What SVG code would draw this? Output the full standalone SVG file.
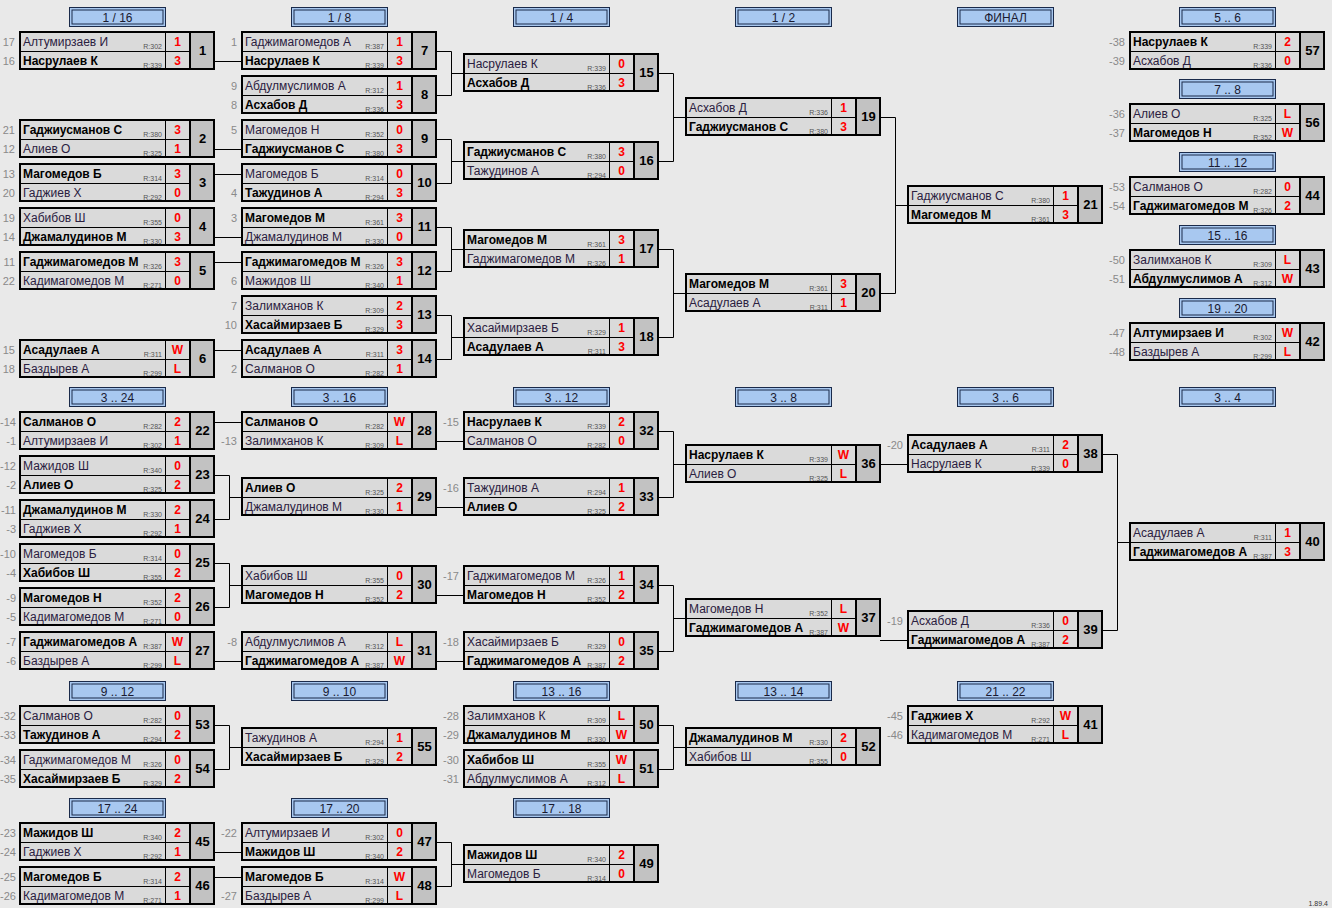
<svg xmlns="http://www.w3.org/2000/svg" xmlns:xlink="http://www.w3.org/1999/xlink" width="1332" height="908" viewBox="0 0 1332 908">
<style>
.n{font-family:"Liberation Sans",Arial,sans-serif;font-size:12px;fill:#2a2040}
.b{font-weight:bold;fill:#000}
.r{font-family:"Liberation Sans",Arial,sans-serif;font-size:7px;fill:#555;text-anchor:end}
.s{font-family:"Liberation Sans",Arial,sans-serif;font-size:12px;font-weight:bold;fill:#f00;text-anchor:middle}
.no{font-family:"Liberation Sans",Arial,sans-serif;font-size:13px;font-weight:bold;fill:#000;text-anchor:middle}
.sd{font-family:"Liberation Sans",Arial,sans-serif;font-size:11px;fill:#8a8a8a;text-anchor:end}
.h{font-family:"Liberation Sans",Arial,sans-serif;font-size:12px;fill:#1a1a30;text-anchor:middle}
.cn{fill:none;stroke:#000;stroke-width:1}
</style>
<defs>
<g id="bx">
<rect x="0" y="0" width="170" height="37" fill="#dadada"/>
<rect x="170" y="0" width="24" height="37" fill="#c2c2c2"/>
<path d="M0 19.5H170M145.5 0V37" stroke="#000" stroke-width="1"/>
<path d="M170 0V37" stroke="#000" stroke-width="2"/>
<rect x="0" y="0" width="194" height="37" fill="none" stroke="#000" stroke-width="2"/>
</g>
<g id="hb">
<rect x="0.5" y="0.5" width="96" height="19" fill="#a8c8f0" stroke="#1a2a4a"/>
<rect x="3" y="3" width="91" height="14" fill="none" stroke="#1a2a4a"/>
</g>
</defs>
<rect x="0" y="0" width="1332" height="908" fill="#e9e9e9"/>

<g id="headers">
<g transform="translate(69,7)"><use href="#hb"/><text class="h" x="48.5" y="14.5">1 / 16</text></g>
<g transform="translate(291,7)"><use href="#hb"/><text class="h" x="48.5" y="14.5">1 / 8</text></g>
<g transform="translate(513,7)"><use href="#hb"/><text class="h" x="48.5" y="14.5">1 / 4</text></g>
<g transform="translate(735,7)"><use href="#hb"/><text class="h" x="48.5" y="14.5">1 / 2</text></g>
<g transform="translate(957,7)"><use href="#hb"/><text class="h" x="48.5" y="14.5">ФИНАЛ</text></g>
<g transform="translate(1179,7)"><use href="#hb"/><text class="h" x="48.5" y="14.5">5 .. 6</text></g>
<g transform="translate(1179,79)"><use href="#hb"/><text class="h" x="48.5" y="14.5">7 .. 8</text></g>
<g transform="translate(1179,152)"><use href="#hb"/><text class="h" x="48.5" y="14.5">11 .. 12</text></g>
<g transform="translate(1179,225)"><use href="#hb"/><text class="h" x="48.5" y="14.5">15 .. 16</text></g>
<g transform="translate(1179,298)"><use href="#hb"/><text class="h" x="48.5" y="14.5">19 .. 20</text></g>
<g transform="translate(69,387)"><use href="#hb"/><text class="h" x="48.5" y="14.5">3 .. 24</text></g>
<g transform="translate(291,387)"><use href="#hb"/><text class="h" x="48.5" y="14.5">3 .. 16</text></g>
<g transform="translate(513,387)"><use href="#hb"/><text class="h" x="48.5" y="14.5">3 .. 12</text></g>
<g transform="translate(735,387)"><use href="#hb"/><text class="h" x="48.5" y="14.5">3 .. 8</text></g>
<g transform="translate(957,387)"><use href="#hb"/><text class="h" x="48.5" y="14.5">3 .. 6</text></g>
<g transform="translate(1179,387)"><use href="#hb"/><text class="h" x="48.5" y="14.5">3 .. 4</text></g>
<g transform="translate(69,681)"><use href="#hb"/><text class="h" x="48.5" y="14.5">9 .. 12</text></g>
<g transform="translate(291,681)"><use href="#hb"/><text class="h" x="48.5" y="14.5">9 .. 10</text></g>
<g transform="translate(513,681)"><use href="#hb"/><text class="h" x="48.5" y="14.5">13 .. 16</text></g>
<g transform="translate(735,681)"><use href="#hb"/><text class="h" x="48.5" y="14.5">13 .. 14</text></g>
<g transform="translate(957,681)"><use href="#hb"/><text class="h" x="48.5" y="14.5">21 .. 22</text></g>
<g transform="translate(69,798)"><use href="#hb"/><text class="h" x="48.5" y="14.5">17 .. 24</text></g>
<g transform="translate(291,798)"><use href="#hb"/><text class="h" x="48.5" y="14.5">17 .. 20</text></g>
<g transform="translate(513,798)"><use href="#hb"/><text class="h" x="48.5" y="14.5">17 .. 18</text></g>
</g>

<g id="connectors" class="cn">
<path d="M214 61.5H242M214 149.5H242M214 174.5H242M214 237.5H242M214 262.5H242M214 350.5H242"/>
<path d="M436 51.5H451.5V95.5H436M451.5 73.5H464M436 139.5H451.5V183.5H436M451.5 161.5H464M436 227.5H451.5V271.5H436M451.5 249.5H464M436 315.5H451.5V359.5H436M451.5 337.5H464"/>
<path d="M658 73.5H673.5V161.5H658M673.5 117.5H686M658 249.5H673.5V337.5H658M673.5 293.5H686"/>
<path d="M880 117.5H895.5V293.5H880M895.5 205.5H908"/>
<path d="M214 422.5H242M214 475.5H229.5V519.5H214M229.5 497.5H242M214 563.5H229.5V607.5H214M229.5 585.5H242M214 661.5H242"/>
<path d="M436 441.5H464M436 507.5H464M436 595.5H464M436 661.5H464"/>
<path d="M658 431.5H673.5V497.5H658M673.5 464.5H686M658 585.5H673.5V651.5H658M673.5 618.5H686"/>
<path d="M880 464.5H908M880 640.5H908"/>
<path d="M1102 454.5H1117.5V630.5H1102M1117.5 542.5H1130"/>
<path d="M214 725.5H229.5V769.5H214M229.5 747.5H242M658 725.5H673.5V769.5H658M673.5 747.5H686"/>
<path d="M214 852.5H242M214 877.5H242M436 842.5H451.5V886.5H436M451.5 864.5H464"/>
</g>

<g id="m1" transform="translate(20,32)"><use href="#bx"/><text class="n" x="3" y="14">Алтумирзаев И</text><text class="r" x="142" y="17">R:302</text><text class="s" x="157.5" y="14">1</text><text class="n b" x="3" y="33">Насрулаев К</text><text class="r" x="142" y="36">R:339</text><text class="s" x="157.5" y="33">3</text><text class="no" x="182.5" y="23">1</text><text class="sd" x="-5" y="14">17</text><text class="sd" x="-5" y="33">16</text></g>
<g id="m2" transform="translate(20,120)"><use href="#bx"/><text class="n b" x="3" y="14">Гаджиусманов С</text><text class="r" x="142" y="17">R:380</text><text class="s" x="157.5" y="14">3</text><text class="n" x="3" y="33">Алиев О</text><text class="r" x="142" y="36">R:325</text><text class="s" x="157.5" y="33">1</text><text class="no" x="182.5" y="23">2</text><text class="sd" x="-5" y="14">21</text><text class="sd" x="-5" y="33">12</text></g>
<g id="m3" transform="translate(20,164)"><use href="#bx"/><text class="n b" x="3" y="14">Магомедов Б</text><text class="r" x="142" y="17">R:314</text><text class="s" x="157.5" y="14">3</text><text class="n" x="3" y="33">Гаджиев Х</text><text class="r" x="142" y="36">R:292</text><text class="s" x="157.5" y="33">0</text><text class="no" x="182.5" y="23">3</text><text class="sd" x="-5" y="14">13</text><text class="sd" x="-5" y="33">20</text></g>
<g id="m4" transform="translate(20,208)"><use href="#bx"/><text class="n" x="3" y="14">Хабибов Ш</text><text class="r" x="142" y="17">R:355</text><text class="s" x="157.5" y="14">0</text><text class="n b" x="3" y="33">Джамалудинов М</text><text class="r" x="142" y="36">R:330</text><text class="s" x="157.5" y="33">3</text><text class="no" x="182.5" y="23">4</text><text class="sd" x="-5" y="14">19</text><text class="sd" x="-5" y="33">14</text></g>
<g id="m5" transform="translate(20,252)"><use href="#bx"/><text class="n b" x="3" y="14">Гаджимагомедов М</text><text class="r" x="142" y="17">R:326</text><text class="s" x="157.5" y="14">3</text><text class="n" x="3" y="33">Кадимагомедов М</text><text class="r" x="142" y="36">R:271</text><text class="s" x="157.5" y="33">0</text><text class="no" x="182.5" y="23">5</text><text class="sd" x="-5" y="14">11</text><text class="sd" x="-5" y="33">22</text></g>
<g id="m6" transform="translate(20,340)"><use href="#bx"/><text class="n b" x="3" y="14">Асадулаев А</text><text class="r" x="142" y="17">R:311</text><text class="s" x="157.5" y="14">W</text><text class="n" x="3" y="33">Баздырев А</text><text class="r" x="142" y="36">R:299</text><text class="s" x="157.5" y="33">L</text><text class="no" x="182.5" y="23">6</text><text class="sd" x="-5" y="14">15</text><text class="sd" x="-5" y="33">18</text></g>

<g id="m7" transform="translate(242,32)"><use href="#bx"/><text class="n" x="3" y="14">Гаджимагомедов А</text><text class="r" x="142" y="17">R:387</text><text class="s" x="157.5" y="14">1</text><text class="n b" x="3" y="33">Насрулаев К</text><text class="r" x="142" y="36">R:339</text><text class="s" x="157.5" y="33">3</text><text class="no" x="182.5" y="23">7</text><text class="sd" x="-5" y="14">1</text></g>
<g id="m8" transform="translate(242,76)"><use href="#bx"/><text class="n" x="3" y="14">Абдулмуслимов А</text><text class="r" x="142" y="17">R:312</text><text class="s" x="157.5" y="14">1</text><text class="n b" x="3" y="33">Асхабов Д</text><text class="r" x="142" y="36">R:336</text><text class="s" x="157.5" y="33">3</text><text class="no" x="182.5" y="23">8</text><text class="sd" x="-5" y="14">9</text><text class="sd" x="-5" y="33">8</text></g>
<g id="m9" transform="translate(242,120)"><use href="#bx"/><text class="n" x="3" y="14">Магомедов Н</text><text class="r" x="142" y="17">R:352</text><text class="s" x="157.5" y="14">0</text><text class="n b" x="3" y="33">Гаджиусманов С</text><text class="r" x="142" y="36">R:380</text><text class="s" x="157.5" y="33">3</text><text class="no" x="182.5" y="23">9</text><text class="sd" x="-5" y="14">5</text></g>
<g id="m10" transform="translate(242,164)"><use href="#bx"/><text class="n" x="3" y="14">Магомедов Б</text><text class="r" x="142" y="17">R:314</text><text class="s" x="157.5" y="14">0</text><text class="n b" x="3" y="33">Тажудинов А</text><text class="r" x="142" y="36">R:294</text><text class="s" x="157.5" y="33">3</text><text class="no" x="182.5" y="23">10</text><text class="sd" x="-5" y="33">4</text></g>
<g id="m11" transform="translate(242,208)"><use href="#bx"/><text class="n b" x="3" y="14">Магомедов М</text><text class="r" x="142" y="17">R:361</text><text class="s" x="157.5" y="14">3</text><text class="n" x="3" y="33">Джамалудинов М</text><text class="r" x="142" y="36">R:330</text><text class="s" x="157.5" y="33">0</text><text class="no" x="182.5" y="23">11</text><text class="sd" x="-5" y="14">3</text></g>
<g id="m12" transform="translate(242,252)"><use href="#bx"/><text class="n b" x="3" y="14">Гаджимагомедов М</text><text class="r" x="142" y="17">R:326</text><text class="s" x="157.5" y="14">3</text><text class="n" x="3" y="33">Мажидов Ш</text><text class="r" x="142" y="36">R:340</text><text class="s" x="157.5" y="33">1</text><text class="no" x="182.5" y="23">12</text><text class="sd" x="-5" y="33">6</text></g>
<g id="m13" transform="translate(242,296)"><use href="#bx"/><text class="n" x="3" y="14">Залимханов К</text><text class="r" x="142" y="17">R:309</text><text class="s" x="157.5" y="14">2</text><text class="n b" x="3" y="33">Хасаймирзаев Б</text><text class="r" x="142" y="36">R:329</text><text class="s" x="157.5" y="33">3</text><text class="no" x="182.5" y="23">13</text><text class="sd" x="-5" y="14">7</text><text class="sd" x="-5" y="33">10</text></g>
<g id="m14" transform="translate(242,340)"><use href="#bx"/><text class="n b" x="3" y="14">Асадулаев А</text><text class="r" x="142" y="17">R:311</text><text class="s" x="157.5" y="14">3</text><text class="n" x="3" y="33">Салманов О</text><text class="r" x="142" y="36">R:282</text><text class="s" x="157.5" y="33">1</text><text class="no" x="182.5" y="23">14</text><text class="sd" x="-5" y="33">2</text></g>

<g id="m15" transform="translate(464,54)"><use href="#bx"/><text class="n" x="3" y="14">Насрулаев К</text><text class="r" x="142" y="17">R:339</text><text class="s" x="157.5" y="14">0</text><text class="n b" x="3" y="33">Асхабов Д</text><text class="r" x="142" y="36">R:336</text><text class="s" x="157.5" y="33">3</text><text class="no" x="182.5" y="23">15</text></g>
<g id="m16" transform="translate(464,142)"><use href="#bx"/><text class="n b" x="3" y="14">Гаджиусманов С</text><text class="r" x="142" y="17">R:380</text><text class="s" x="157.5" y="14">3</text><text class="n" x="3" y="33">Тажудинов А</text><text class="r" x="142" y="36">R:294</text><text class="s" x="157.5" y="33">0</text><text class="no" x="182.5" y="23">16</text></g>
<g id="m17" transform="translate(464,230)"><use href="#bx"/><text class="n b" x="3" y="14">Магомедов М</text><text class="r" x="142" y="17">R:361</text><text class="s" x="157.5" y="14">3</text><text class="n" x="3" y="33">Гаджимагомедов М</text><text class="r" x="142" y="36">R:326</text><text class="s" x="157.5" y="33">1</text><text class="no" x="182.5" y="23">17</text></g>
<g id="m18" transform="translate(464,318)"><use href="#bx"/><text class="n" x="3" y="14">Хасаймирзаев Б</text><text class="r" x="142" y="17">R:329</text><text class="s" x="157.5" y="14">1</text><text class="n b" x="3" y="33">Асадулаев А</text><text class="r" x="142" y="36">R:311</text><text class="s" x="157.5" y="33">3</text><text class="no" x="182.5" y="23">18</text></g>

<g id="m19" transform="translate(686,98)"><use href="#bx"/><text class="n" x="3" y="14">Асхабов Д</text><text class="r" x="142" y="17">R:336</text><text class="s" x="157.5" y="14">1</text><text class="n b" x="3" y="33">Гаджиусманов С</text><text class="r" x="142" y="36">R:380</text><text class="s" x="157.5" y="33">3</text><text class="no" x="182.5" y="23">19</text></g>
<g id="m20" transform="translate(686,274)"><use href="#bx"/><text class="n b" x="3" y="14">Магомедов М</text><text class="r" x="142" y="17">R:361</text><text class="s" x="157.5" y="14">3</text><text class="n" x="3" y="33">Асадулаев А</text><text class="r" x="142" y="36">R:311</text><text class="s" x="157.5" y="33">1</text><text class="no" x="182.5" y="23">20</text></g>

<g id="m21" transform="translate(908,186)"><use href="#bx"/><text class="n" x="3" y="14">Гаджиусманов С</text><text class="r" x="142" y="17">R:380</text><text class="s" x="157.5" y="14">1</text><text class="n b" x="3" y="33">Магомедов М</text><text class="r" x="142" y="36">R:361</text><text class="s" x="157.5" y="33">3</text><text class="no" x="182.5" y="23">21</text></g>

<g id="m57" transform="translate(1130,32)"><use href="#bx"/><text class="n b" x="3" y="14">Насрулаев К</text><text class="r" x="142" y="17">R:339</text><text class="s" x="157.5" y="14">2</text><text class="n" x="3" y="33">Асхабов Д</text><text class="r" x="142" y="36">R:336</text><text class="s" x="157.5" y="33">0</text><text class="no" x="182.5" y="23">57</text><text class="sd" x="-5" y="14">-38</text><text class="sd" x="-5" y="33">-39</text></g>
<g id="m56" transform="translate(1130,104)"><use href="#bx"/><text class="n" x="3" y="14">Алиев О</text><text class="r" x="142" y="17">R:325</text><text class="s" x="157.5" y="14">L</text><text class="n b" x="3" y="33">Магомедов Н</text><text class="r" x="142" y="36">R:352</text><text class="s" x="157.5" y="33">W</text><text class="no" x="182.5" y="23">56</text><text class="sd" x="-5" y="14">-36</text><text class="sd" x="-5" y="33">-37</text></g>
<g id="m44" transform="translate(1130,177)"><use href="#bx"/><text class="n" x="3" y="14">Салманов О</text><text class="r" x="142" y="17">R:282</text><text class="s" x="157.5" y="14">0</text><text class="n b" x="3" y="33">Гаджимагомедов М</text><text class="r" x="142" y="36">R:326</text><text class="s" x="157.5" y="33">2</text><text class="no" x="182.5" y="23">44</text><text class="sd" x="-5" y="14">-53</text><text class="sd" x="-5" y="33">-54</text></g>
<g id="m43" transform="translate(1130,250)"><use href="#bx"/><text class="n" x="3" y="14">Залимханов К</text><text class="r" x="142" y="17">R:309</text><text class="s" x="157.5" y="14">L</text><text class="n b" x="3" y="33">Абдулмуслимов А</text><text class="r" x="142" y="36">R:312</text><text class="s" x="157.5" y="33">W</text><text class="no" x="182.5" y="23">43</text><text class="sd" x="-5" y="14">-50</text><text class="sd" x="-5" y="33">-51</text></g>
<g id="m42" transform="translate(1130,323)"><use href="#bx"/><text class="n b" x="3" y="14">Алтумирзаев И</text><text class="r" x="142" y="17">R:302</text><text class="s" x="157.5" y="14">W</text><text class="n" x="3" y="33">Баздырев А</text><text class="r" x="142" y="36">R:299</text><text class="s" x="157.5" y="33">L</text><text class="no" x="182.5" y="23">42</text><text class="sd" x="-5" y="14">-47</text><text class="sd" x="-5" y="33">-48</text></g>

<g id="m22" transform="translate(20,412)"><use href="#bx"/><text class="n b" x="3" y="14">Салманов О</text><text class="r" x="142" y="17">R:282</text><text class="s" x="157.5" y="14">2</text><text class="n" x="3" y="33">Алтумирзаев И</text><text class="r" x="142" y="36">R:302</text><text class="s" x="157.5" y="33">1</text><text class="no" x="182.5" y="23">22</text><text class="sd" x="-4" y="14">-14</text><text class="sd" x="-4" y="33">-1</text></g>
<g id="m23" transform="translate(20,456)"><use href="#bx"/><text class="n" x="3" y="14">Мажидов Ш</text><text class="r" x="142" y="17">R:340</text><text class="s" x="157.5" y="14">0</text><text class="n b" x="3" y="33">Алиев О</text><text class="r" x="142" y="36">R:325</text><text class="s" x="157.5" y="33">2</text><text class="no" x="182.5" y="23">23</text><text class="sd" x="-4" y="14">-12</text><text class="sd" x="-4" y="33">-2</text></g>
<g id="m24" transform="translate(20,500)"><use href="#bx"/><text class="n b" x="3" y="14">Джамалудинов М</text><text class="r" x="142" y="17">R:330</text><text class="s" x="157.5" y="14">2</text><text class="n" x="3" y="33">Гаджиев Х</text><text class="r" x="142" y="36">R:292</text><text class="s" x="157.5" y="33">1</text><text class="no" x="182.5" y="23">24</text><text class="sd" x="-4" y="14">-11</text><text class="sd" x="-4" y="33">-3</text></g>
<g id="m25" transform="translate(20,544)"><use href="#bx"/><text class="n" x="3" y="14">Магомедов Б</text><text class="r" x="142" y="17">R:314</text><text class="s" x="157.5" y="14">0</text><text class="n b" x="3" y="33">Хабибов Ш</text><text class="r" x="142" y="36">R:355</text><text class="s" x="157.5" y="33">2</text><text class="no" x="182.5" y="23">25</text><text class="sd" x="-4" y="14">-10</text><text class="sd" x="-4" y="33">-4</text></g>
<g id="m26" transform="translate(20,588)"><use href="#bx"/><text class="n b" x="3" y="14">Магомедов Н</text><text class="r" x="142" y="17">R:352</text><text class="s" x="157.5" y="14">2</text><text class="n" x="3" y="33">Кадимагомедов М</text><text class="r" x="142" y="36">R:271</text><text class="s" x="157.5" y="33">0</text><text class="no" x="182.5" y="23">26</text><text class="sd" x="-4" y="14">-9</text><text class="sd" x="-4" y="33">-5</text></g>
<g id="m27" transform="translate(20,632)"><use href="#bx"/><text class="n b" x="3" y="14">Гаджимагомедов А</text><text class="r" x="142" y="17">R:387</text><text class="s" x="157.5" y="14">W</text><text class="n" x="3" y="33">Баздырев А</text><text class="r" x="142" y="36">R:299</text><text class="s" x="157.5" y="33">L</text><text class="no" x="182.5" y="23">27</text><text class="sd" x="-4" y="14">-7</text><text class="sd" x="-4" y="33">-6</text></g>

<g id="m28" transform="translate(242,412)"><use href="#bx"/><text class="n b" x="3" y="14">Салманов О</text><text class="r" x="142" y="17">R:282</text><text class="s" x="157.5" y="14">W</text><text class="n" x="3" y="33">Залимханов К</text><text class="r" x="142" y="36">R:309</text><text class="s" x="157.5" y="33">L</text><text class="no" x="182.5" y="23">28</text><text class="sd" x="-5" y="33">-13</text></g>
<g id="m29" transform="translate(242,478)"><use href="#bx"/><text class="n b" x="3" y="14">Алиев О</text><text class="r" x="142" y="17">R:325</text><text class="s" x="157.5" y="14">2</text><text class="n" x="3" y="33">Джамалудинов М</text><text class="r" x="142" y="36">R:330</text><text class="s" x="157.5" y="33">1</text><text class="no" x="182.5" y="23">29</text></g>
<g id="m30" transform="translate(242,566)"><use href="#bx"/><text class="n" x="3" y="14">Хабибов Ш</text><text class="r" x="142" y="17">R:355</text><text class="s" x="157.5" y="14">0</text><text class="n b" x="3" y="33">Магомедов Н</text><text class="r" x="142" y="36">R:352</text><text class="s" x="157.5" y="33">2</text><text class="no" x="182.5" y="23">30</text></g>
<g id="m31" transform="translate(242,632)"><use href="#bx"/><text class="n" x="3" y="14">Абдулмуслимов А</text><text class="r" x="142" y="17">R:312</text><text class="s" x="157.5" y="14">L</text><text class="n b" x="3" y="33">Гаджимагомедов А</text><text class="r" x="142" y="36">R:387</text><text class="s" x="157.5" y="33">W</text><text class="no" x="182.5" y="23">31</text><text class="sd" x="-5" y="14">-8</text></g>

<g id="m32" transform="translate(464,412)"><use href="#bx"/><text class="n b" x="3" y="14">Насрулаев К</text><text class="r" x="142" y="17">R:339</text><text class="s" x="157.5" y="14">2</text><text class="n" x="3" y="33">Салманов О</text><text class="r" x="142" y="36">R:282</text><text class="s" x="157.5" y="33">0</text><text class="no" x="182.5" y="23">32</text><text class="sd" x="-5" y="14">-15</text></g>
<g id="m33" transform="translate(464,478)"><use href="#bx"/><text class="n" x="3" y="14">Тажудинов А</text><text class="r" x="142" y="17">R:294</text><text class="s" x="157.5" y="14">1</text><text class="n b" x="3" y="33">Алиев О</text><text class="r" x="142" y="36">R:325</text><text class="s" x="157.5" y="33">2</text><text class="no" x="182.5" y="23">33</text><text class="sd" x="-5" y="14">-16</text></g>
<g id="m34" transform="translate(464,566)"><use href="#bx"/><text class="n" x="3" y="14">Гаджимагомедов М</text><text class="r" x="142" y="17">R:326</text><text class="s" x="157.5" y="14">1</text><text class="n b" x="3" y="33">Магомедов Н</text><text class="r" x="142" y="36">R:352</text><text class="s" x="157.5" y="33">2</text><text class="no" x="182.5" y="23">34</text><text class="sd" x="-5" y="14">-17</text></g>
<g id="m35" transform="translate(464,632)"><use href="#bx"/><text class="n" x="3" y="14">Хасаймирзаев Б</text><text class="r" x="142" y="17">R:329</text><text class="s" x="157.5" y="14">0</text><text class="n b" x="3" y="33">Гаджимагомедов А</text><text class="r" x="142" y="36">R:387</text><text class="s" x="157.5" y="33">2</text><text class="no" x="182.5" y="23">35</text><text class="sd" x="-5" y="14">-18</text></g>

<g id="m36" transform="translate(686,445)"><use href="#bx"/><text class="n b" x="3" y="14">Насрулаев К</text><text class="r" x="142" y="17">R:339</text><text class="s" x="157.5" y="14">W</text><text class="n" x="3" y="33">Алиев О</text><text class="r" x="142" y="36">R:325</text><text class="s" x="157.5" y="33">L</text><text class="no" x="182.5" y="23">36</text></g>
<g id="m37" transform="translate(686,599)"><use href="#bx"/><text class="n" x="3" y="14">Магомедов Н</text><text class="r" x="142" y="17">R:352</text><text class="s" x="157.5" y="14">L</text><text class="n b" x="3" y="33">Гаджимагомедов А</text><text class="r" x="142" y="36">R:387</text><text class="s" x="157.5" y="33">W</text><text class="no" x="182.5" y="23">37</text></g>

<g id="m38" transform="translate(908,435)"><use href="#bx"/><text class="n b" x="3" y="14">Асадулаев А</text><text class="r" x="142" y="17">R:311</text><text class="s" x="157.5" y="14">2</text><text class="n" x="3" y="33">Насрулаев К</text><text class="r" x="142" y="36">R:339</text><text class="s" x="157.5" y="33">0</text><text class="no" x="182.5" y="23">38</text><text class="sd" x="-5" y="14">-20</text></g>
<g id="m39" transform="translate(908,611)"><use href="#bx"/><text class="n" x="3" y="14">Асхабов Д</text><text class="r" x="142" y="17">R:336</text><text class="s" x="157.5" y="14">0</text><text class="n b" x="3" y="33">Гаджимагомедов А</text><text class="r" x="142" y="36">R:387</text><text class="s" x="157.5" y="33">2</text><text class="no" x="182.5" y="23">39</text><text class="sd" x="-5" y="14">-19</text></g>

<g id="m40" transform="translate(1130,523)"><use href="#bx"/><text class="n" x="3" y="14">Асадулаев А</text><text class="r" x="142" y="17">R:311</text><text class="s" x="157.5" y="14">1</text><text class="n b" x="3" y="33">Гаджимагомедов А</text><text class="r" x="142" y="36">R:387</text><text class="s" x="157.5" y="33">3</text><text class="no" x="182.5" y="23">40</text></g>

<g id="m53" transform="translate(20,706)"><use href="#bx"/><text class="n" x="3" y="14">Салманов О</text><text class="r" x="142" y="17">R:282</text><text class="s" x="157.5" y="14">0</text><text class="n b" x="3" y="33">Тажудинов А</text><text class="r" x="142" y="36">R:294</text><text class="s" x="157.5" y="33">2</text><text class="no" x="182.5" y="23">53</text><text class="sd" x="-4" y="14">-32</text><text class="sd" x="-4" y="33">-33</text></g>
<g id="m54" transform="translate(20,750)"><use href="#bx"/><text class="n" x="3" y="14">Гаджимагомедов М</text><text class="r" x="142" y="17">R:326</text><text class="s" x="157.5" y="14">0</text><text class="n b" x="3" y="33">Хасаймирзаев Б</text><text class="r" x="142" y="36">R:329</text><text class="s" x="157.5" y="33">2</text><text class="no" x="182.5" y="23">54</text><text class="sd" x="-4" y="14">-34</text><text class="sd" x="-4" y="33">-35</text></g>
<g id="m55" transform="translate(242,728)"><use href="#bx"/><text class="n" x="3" y="14">Тажудинов А</text><text class="r" x="142" y="17">R:294</text><text class="s" x="157.5" y="14">1</text><text class="n b" x="3" y="33">Хасаймирзаев Б</text><text class="r" x="142" y="36">R:329</text><text class="s" x="157.5" y="33">2</text><text class="no" x="182.5" y="23">55</text></g>
<g id="m50" transform="translate(464,706)"><use href="#bx"/><text class="n" x="3" y="14">Залимханов К</text><text class="r" x="142" y="17">R:309</text><text class="s" x="157.5" y="14">L</text><text class="n b" x="3" y="33">Джамалудинов М</text><text class="r" x="142" y="36">R:330</text><text class="s" x="157.5" y="33">W</text><text class="no" x="182.5" y="23">50</text><text class="sd" x="-5" y="14">-28</text><text class="sd" x="-5" y="33">-29</text></g>
<g id="m51" transform="translate(464,750)"><use href="#bx"/><text class="n b" x="3" y="14">Хабибов Ш</text><text class="r" x="142" y="17">R:355</text><text class="s" x="157.5" y="14">W</text><text class="n" x="3" y="33">Абдулмуслимов А</text><text class="r" x="142" y="36">R:312</text><text class="s" x="157.5" y="33">L</text><text class="no" x="182.5" y="23">51</text><text class="sd" x="-5" y="14">-30</text><text class="sd" x="-5" y="33">-31</text></g>
<g id="m52" transform="translate(686,728)"><use href="#bx"/><text class="n b" x="3" y="14">Джамалудинов М</text><text class="r" x="142" y="17">R:330</text><text class="s" x="157.5" y="14">2</text><text class="n" x="3" y="33">Хабибов Ш</text><text class="r" x="142" y="36">R:355</text><text class="s" x="157.5" y="33">0</text><text class="no" x="182.5" y="23">52</text></g>
<g id="m41" transform="translate(908,706)"><use href="#bx"/><text class="n b" x="3" y="14">Гаджиев Х</text><text class="r" x="142" y="17">R:292</text><text class="s" x="157.5" y="14">W</text><text class="n" x="3" y="33">Кадимагомедов М</text><text class="r" x="142" y="36">R:271</text><text class="s" x="157.5" y="33">L</text><text class="no" x="182.5" y="23">41</text><text class="sd" x="-5" y="14">-45</text><text class="sd" x="-5" y="33">-46</text></g>

<g id="m45" transform="translate(20,823)"><use href="#bx"/><text class="n b" x="3" y="14">Мажидов Ш</text><text class="r" x="142" y="17">R:340</text><text class="s" x="157.5" y="14">2</text><text class="n" x="3" y="33">Гаджиев Х</text><text class="r" x="142" y="36">R:292</text><text class="s" x="157.5" y="33">1</text><text class="no" x="182.5" y="23">45</text><text class="sd" x="-4" y="14">-23</text><text class="sd" x="-4" y="33">-24</text></g>
<g id="m46" transform="translate(20,867)"><use href="#bx"/><text class="n b" x="3" y="14">Магомедов Б</text><text class="r" x="142" y="17">R:314</text><text class="s" x="157.5" y="14">2</text><text class="n" x="3" y="33">Кадимагомедов М</text><text class="r" x="142" y="36">R:271</text><text class="s" x="157.5" y="33">1</text><text class="no" x="182.5" y="23">46</text><text class="sd" x="-4" y="14">-25</text><text class="sd" x="-4" y="33">-26</text></g>
<g id="m47" transform="translate(242,823)"><use href="#bx"/><text class="n" x="3" y="14">Алтумирзаев И</text><text class="r" x="142" y="17">R:302</text><text class="s" x="157.5" y="14">0</text><text class="n b" x="3" y="33">Мажидов Ш</text><text class="r" x="142" y="36">R:340</text><text class="s" x="157.5" y="33">2</text><text class="no" x="182.5" y="23">47</text><text class="sd" x="-5" y="14">-22</text></g>
<g id="m48" transform="translate(242,867)"><use href="#bx"/><text class="n b" x="3" y="14">Магомедов Б</text><text class="r" x="142" y="17">R:314</text><text class="s" x="157.5" y="14">W</text><text class="n" x="3" y="33">Баздырев А</text><text class="r" x="142" y="36">R:299</text><text class="s" x="157.5" y="33">L</text><text class="no" x="182.5" y="23">48</text><text class="sd" x="-5" y="33">-27</text></g>
<g id="m49" transform="translate(464,845)"><use href="#bx"/><text class="n b" x="3" y="14">Мажидов Ш</text><text class="r" x="142" y="17">R:340</text><text class="s" x="157.5" y="14">2</text><text class="n" x="3" y="33">Магомедов Б</text><text class="r" x="142" y="36">R:314</text><text class="s" x="157.5" y="33">0</text><text class="no" x="182.5" y="23">49</text></g>

<text x="1328" y="906" font-family="Liberation Sans, Arial, sans-serif" font-size="7" fill="#333" text-anchor="end">1.89.4</text>
</svg>
